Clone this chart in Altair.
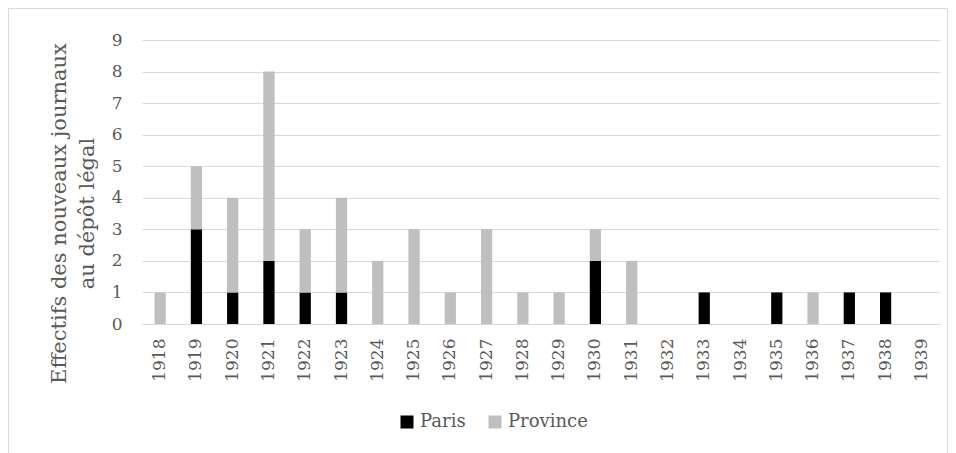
import altair as alt
import pandas as pd

years = [str(y) for y in range(1918, 1940)]
paris = [0, 3, 1, 2, 1, 1, 0, 0, 0, 0, 0, 0, 2, 0, 0, 1, 0, 1, 0, 1, 1, 0]
province = [1, 2, 3, 6, 2, 3, 2, 3, 1, 3, 1, 1, 1, 2, 0, 0, 0, 0, 1, 0, 0, 0]
series = ["Paris", "Province"]
colors = ["#000000", "#bfbfbf"]
y_ticks = list(range(0, 10))

rows = []
for i, yr in enumerate(years):
    rows.append({"annee": yr, "serie": "Paris", "n": paris[i], "ord": 0})
    rows.append({"annee": yr, "serie": "Province", "n": province[i], "ord": 1})
df = pd.DataFrame(rows)

FONT = "DejaVu Serif"
W, H = 798, 284
PL, PT, PR, PB = 134, 32, 8, 140

bars = alt.Chart(df).mark_bar().encode(
    x=alt.X("annee:N", sort=years,
            scale=alt.Scale(paddingInner=0.69, paddingOuter=0.345),
            axis=alt.Axis(title=None, labelAngle=-90, labelPadding=14, ticks=False,
                          domainColor="#d9d9d9", labelColor="#595959",
                          labelFontSize=17, labelFont=FONT)),
    y=alt.Y("n:Q", stack="zero",
            scale=alt.Scale(domain=[0, 9], nice=False),
            axis=alt.Axis(values=y_ticks, title=["Effectifs des nouveaux journaux", "au dépôt légal"],
                          titleFont=FONT, titleFontSize=21, titleFontWeight="normal",
                          titleColor="#595959", titleAngle=-90, titleAlign="center",
                          titleBaseline="alphabetic", titleX=-77, titleY=173, titleLineHeight=28,
                          domain=False, ticks=False, labelPadding=20, labelColor="#595959",
                          labelFontSize=17, labelFont=FONT, gridColor="#d9d9d9")),
    color=alt.Color("serie:N", scale=alt.Scale(domain=series, range=colors),
                    legend=alt.Legend(title=None, orient="none", direction="horizontal",
                                      legendX=256, legendY=373, symbolType="square",
                                      symbolSize=169, symbolStrokeWidth=0,
                                      labelFont=FONT, labelFontSize=18, labelColor="#595959",
                                      labelOffset=4, columnPadding=20)),
    order=alt.Order("ord:Q"),
)

frame = alt.Chart(pd.DataFrame({"a": [0]})).mark_rect(
    fill=None, stroke="#d9d9d9", strokeWidth=1, clip=False
).encode(
    x=alt.value(-PL + 0.5), x2=alt.value(W + PR - 0.5),
    y=alt.value(-PT + 0.5), y2=alt.value(H + PB + 20),
)

chart = alt.layer(frame, bars).properties(
    width=W, height=H,
    autosize=alt.AutoSizeParams(type="none"),
    padding={"left": PL, "top": PT, "right": PR, "bottom": PB},
).configure(font=FONT).configure_view(stroke=None)

chart.save("out.html", embed_options={"renderer": "svg", "actions": False})
